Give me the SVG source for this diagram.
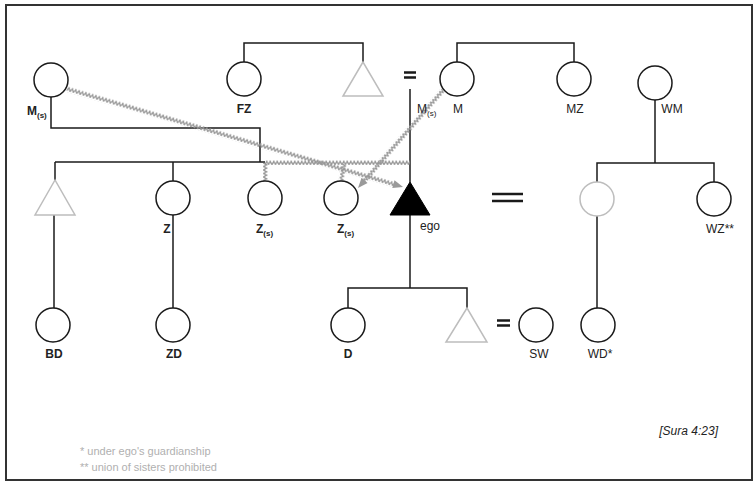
<svg xmlns="http://www.w3.org/2000/svg" width="754" height="482" viewBox="0 0 754 482">
<defs>
<style>
.ln{fill:none;stroke:#1a1a1a;stroke-width:1.5}
.c{fill:#fff;stroke:#1a1a1a;stroke-width:1.5}
.g{fill:#fff;stroke:#bdbdbd;stroke-width:1.5}
.eq{stroke:#1a1a1a;stroke-width:2.5}
.t{font-family:"Liberation Sans",Arial,sans-serif;font-size:12px;fill:#222}
.b{font-weight:bold}
.sub{font-size:8px}
.leg{font-family:"Liberation Sans",Arial,sans-serif;font-size:11px;fill:#b0b0b0}
.ah{fill:#9a9a9a}
</style>
<pattern id="zz" patternUnits="userSpaceOnUse" x="0" y="-3" width="3.5" height="6">
<path d="M0,4.7 L1.75,1.3 L3.5,4.7" fill="none" stroke="#969696" stroke-width="1.3"/>
</pattern>
</defs>
<rect x="6" y="5" width="746" height="475" fill="#fff" stroke="#333" stroke-width="2"/>

<g id="connectors">
<polyline class="ln" points="51,97 51,128 260,128 260,162"/>
<line class="ln" x1="55" y1="162" x2="265" y2="162"/>
<line class="ln" x1="55" y1="162" x2="55" y2="180"/>
<line class="ln" x1="173" y1="162" x2="173" y2="181"/>
<polyline class="ln" points="244,62 244,43 363,43 363,62"/>
<polyline class="ln" points="457,62 457,43 574,43 574,62"/>
<line class="eq" x1="404" y1="72.5" x2="416" y2="72.5"/>
<line class="eq" x1="404" y1="77.5" x2="416" y2="77.5"/>
<line class="ln" x1="410" y1="89" x2="410" y2="182"/>
<line class="ln" x1="410" y1="215" x2="410" y2="288"/>
<polyline class="ln" points="348,308 348,288 467,288 467,308"/>
<line class="eq" x1="497" y1="320.5" x2="510" y2="320.5"/>
<line class="eq" x1="497" y1="325.5" x2="510" y2="325.5"/>
<line class="ln" x1="655" y1="100" x2="655" y2="163"/>
<polyline class="ln" points="597,182 597,163 714,163 714,182"/>
<line class="ln" x1="597" y1="216" x2="597" y2="308"/>
<line class="eq" x1="492" y1="194" x2="523" y2="194" stroke-width="3"/>
<line class="eq" x1="492" y1="201" x2="523" y2="201" stroke-width="3"/>
<line class="ln" x1="54" y1="215" x2="54" y2="308"/>
<line class="ln" x1="173" y1="215" x2="173" y2="308"/>
<!-- wavy milk-kinship lines -->
<g transform="translate(67,89) rotate(16.26)">
<rect x="0" y="-3" width="342" height="6" fill="url(#zz)"/>
<polygon class="ah" points="350,0 340,-4 340,4"/>
</g>
<g transform="translate(443,90) rotate(130.94)">
<rect x="0" y="-3" width="122" height="6" fill="url(#zz)"/>
<polygon class="ah" points="129.7,0 119.7,-4 119.7,4"/>
</g>
<g transform="translate(265,163)">
<rect x="0" y="-3" width="145" height="6" fill="url(#zz)"/>
</g>
<g transform="translate(265,163) rotate(90)">
<rect x="0" y="-3" width="18" height="6" fill="url(#zz)"/>
</g>
<g transform="translate(344,164) rotate(100)">
<rect x="0" y="-3" width="17" height="6" fill="url(#zz)"/>
</g>
</g>

<g id="Ms1"><circle class="c" cx="51" cy="80" r="17"/><text class="t b" x="27" y="115">M<tspan class="sub" dy="3">(s)</tspan></text></g>
<g id="FZ"><circle class="c" cx="244" cy="79" r="17"/><text class="t b" x="244" y="113" text-anchor="middle">FZ</text></g>
<g id="F"><polygon class="g" points="363,62 343,96 383,96"/></g>
<g id="M"><circle class="c" cx="457" cy="79" r="17"/><text class="t" x="458" y="113" text-anchor="middle">M</text></g>
<g id="Ms2"><text class="t" x="417" y="113">M<tspan class="sub" dy="3">(s)</tspan></text></g>
<g id="MZ"><circle class="c" cx="574" cy="79" r="17"/><text class="t" x="575" y="113" text-anchor="middle">MZ</text></g>
<g id="WM"><circle class="c" cx="655" cy="83" r="17"/><text class="t" x="672" y="113" text-anchor="middle">WM</text></g>
<g id="B"><polygon class="g" points="55,180 35,215 75,215"/></g>
<g id="Z"><circle class="c" cx="173" cy="198" r="17"/><text class="t b" x="167" y="233" text-anchor="middle">Z</text></g>
<g id="Zs1"><circle class="c" cx="265" cy="198" r="17"/><text class="t b" x="256" y="233">Z<tspan class="sub" dy="3">(s)</tspan></text></g>
<g id="Zs2"><circle class="c" cx="341" cy="198" r="17"/><text class="t b" x="337" y="233">Z<tspan class="sub" dy="3">(s)</tspan></text></g>
<g id="ego"><polygon points="410,182 390,215 430,215" fill="#000" stroke="#000" stroke-width="1"/><text class="t" x="420" y="230">ego</text></g>
<g id="W"><circle class="g" cx="597" cy="199" r="17"/></g>
<g id="WZ"><circle class="c" cx="714" cy="199" r="17"/><text class="t" x="720" y="233" text-anchor="middle">WZ**</text></g>
<g id="BD"><circle class="c" cx="53" cy="325" r="17"/><text class="t b" x="54" y="358" text-anchor="middle">BD</text></g>
<g id="ZD"><circle class="c" cx="173" cy="325" r="17"/><text class="t b" x="174" y="358" text-anchor="middle">ZD</text></g>
<g id="D"><circle class="c" cx="348" cy="325" r="17"/><text class="t b" x="348" y="358" text-anchor="middle">D</text></g>
<g id="S"><polygon class="g" points="467,308 446,342 487,342"/></g>
<g id="SW"><circle class="c" cx="536" cy="325" r="17"/><text class="t" x="539" y="358" text-anchor="middle">SW</text></g>
<g id="WD"><circle class="c" cx="598" cy="325" r="17"/><text class="t" x="600" y="358" text-anchor="middle">WD*</text></g>

<text class="t" x="718" y="435" text-anchor="end" font-style="italic" font-size="12.5">[Sura 4:23]</text>
<text class="leg" x="80" y="455">*  under ego's guardianship</text>
<text class="leg" x="80" y="471">** union of sisters prohibited</text>
</svg>
